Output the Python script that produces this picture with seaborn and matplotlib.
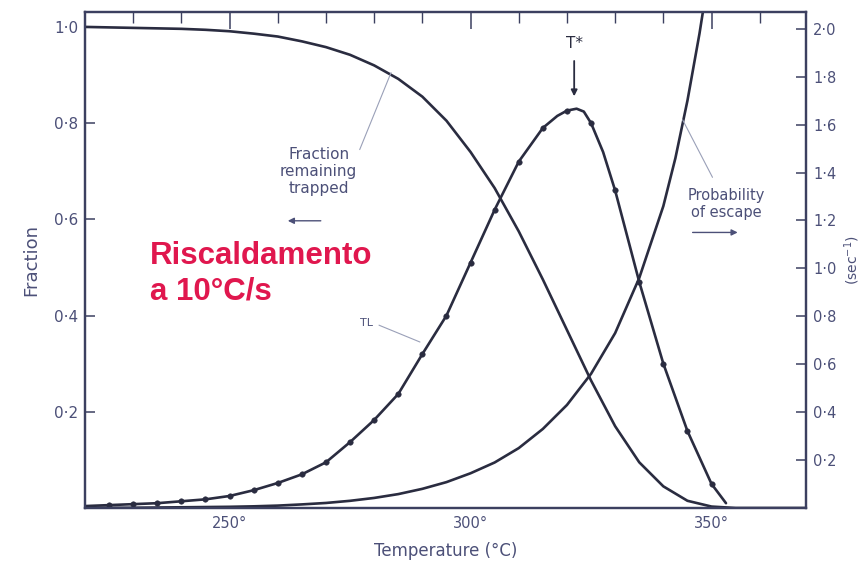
import matplotlib
matplotlib.use("Agg")
import matplotlib.pyplot as plt
import seaborn as sns
import pandas as pd
from matplotlib.ticker import FixedLocator

# ---------------- data ----------------
temp_c = [220, 225, 230, 235, 240, 245, 250, 255, 260, 265, 270, 275, 280,
          285, 290, 295, 300, 305, 310, 315, 320, 325, 330, 335, 340, 345,
          350, 355, 360, 365, 370]

fraction_trapped = [1.0, 0.999, 0.998, 0.997, 0.996, 0.994, 0.991, 0.986,
                    0.980, 0.970, 0.958, 0.942, 0.920, 0.892, 0.855, 0.805,
                    0.740, 0.665, 0.575, 0.475, 0.370, 0.265, 0.170, 0.095,
                    0.045, 0.015, 0.003, 0.0, 0.0, 0.0, 0.0]

esc_temp = [220, 225, 230, 235, 240, 245, 250, 255, 260, 265, 270, 275, 280,
            285, 290, 295, 300, 305, 310, 315, 320, 325, 330, 335, 340,
            342.5, 345, 347.5, 350]
escape_prob = [0.001, 0.001, 0.001, 0.002, 0.003, 0.004, 0.005, 0.007,
               0.010, 0.015, 0.021, 0.030, 0.042, 0.058, 0.080, 0.108,
               0.145, 0.190, 0.250, 0.330, 0.430, 0.560, 0.730, 0.960,
               1.260, 1.460, 1.700, 1.980, 2.300]

tl_temp = [220, 225, 230, 235, 240, 245, 250, 255, 260, 265, 270, 275, 280,
           285, 290, 295, 300, 305, 310, 315, 318, 320, 322, 323.5, 325,
           327.5, 330, 335, 340, 345, 350, 353]
tl_intensity = [0.004, 0.006, 0.008, 0.010, 0.014, 0.018, 0.025, 0.037,
                0.052, 0.070, 0.095, 0.137, 0.183, 0.237, 0.320, 0.400,
                0.510, 0.620, 0.720, 0.790, 0.815, 0.826, 0.830, 0.824,
                0.800, 0.740, 0.660, 0.470, 0.300, 0.160, 0.050, 0.010]
tl_dot_temp = [225, 230, 235, 240, 245, 250, 255, 260, 265, 270, 275, 280,
               285, 290, 295, 300, 305, 310, 315, 320, 325, 330, 335, 340,
               345, 350]

x_major = [250, 300, 350]
x_major_labels = ["250°", "300°", "350°"]
x_minor = [230, 240, 260, 270, 280, 290, 310, 320, 330, 340, 360]
left_ticks = [0.2, 0.4, 0.6, 0.8, 1.0]
left_labels = ["0·2", "0·4", "0·6", "0·8", "1·0"]
right_ticks = [0.2, 0.4, 0.6, 0.8, 1.0, 1.2, 1.4, 1.6, 1.8, 2.0]
right_labels = ["0·2", "0·4", "0·6", "0·8", "1·0", "1·2", "1·4", "1·6", "1·8", "2·0"]

# ---------------- styling ----------------
sns.set_style("white")
plt.rcParams["font.family"] = ["DejaVu Sans"]

LINE = "#2a2c40"
AXC = "#3c4060"
TXT = "#4c5078"
LEAD = "#9aa0b8"

df_frac = pd.DataFrame({"T": temp_c, "v": fraction_trapped})
df_esc = pd.DataFrame({"T": esc_temp, "v": escape_prob})
df_tl = pd.DataFrame({"T": tl_temp, "v": tl_intensity})
df_dots = df_tl[df_tl["T"].isin(tl_dot_temp)]

fig = plt.figure(figsize=(8.67, 5.71), dpi=100)
ax = fig.add_axes([85 / 867, 1 - 508 / 571, (806 - 85) / 867, (508 - 12) / 571])
ax2 = ax.twinx()

sns.lineplot(data=df_frac, x="T", y="v", ax=ax, color=LINE, lw=1.9)
sns.lineplot(data=df_tl, x="T", y="v", ax=ax, color=LINE, lw=1.9)
sns.scatterplot(data=df_dots, x="T", y="v", ax=ax, color=LINE, s=16,
                edgecolor=LINE, zorder=5)
sns.lineplot(data=df_esc, x="T", y="v", ax=ax2, color=LINE, lw=1.9)

ax.set_xlim(220, 369.6)
ax.set_ylim(0, 1.031)
ax2.set_ylim(0, 2.07)

for a in (ax, ax2):
    for s in a.spines.values():
        s.set_visible(True)
        s.set_color(AXC)
        s.set_linewidth(1.6)

ax.xaxis.set_major_locator(FixedLocator(x_major))
ax.xaxis.set_minor_locator(FixedLocator(x_minor))
ax.set_xticklabels(x_major_labels)
ax.tick_params(axis="x", which="major", direction="in", length=12, width=1.1,
               color=AXC, labelsize=10.5, labelcolor=TXT, pad=6, top=True)
ax.tick_params(axis="x", which="minor", direction="in", length=8, width=1.0,
               color=AXC, top=True)

ax.yaxis.set_major_locator(FixedLocator(left_ticks))
ax.set_yticklabels(left_labels)
ax.tick_params(axis="y", direction="in", length=7, width=1.1, color=AXC,
               labelsize=11, labelcolor=TXT, pad=5)
ax2.yaxis.set_major_locator(FixedLocator(right_ticks))
ax2.set_yticklabels(right_labels)
ax2.tick_params(axis="y", direction="in", length=7, width=1.1, color=AXC,
                labelsize=10.5, labelcolor=TXT, pad=5)

ax.set_xlabel("Temperature (°C)", fontsize=12, color=TXT, labelpad=8)
ax.set_ylabel("Fraction", fontsize=13, color=TXT, labelpad=10)
ax2.set_ylabel("(sec$^{-1}$)", fontsize=10, color=TXT, labelpad=4)

# ---------------- annotations ----------------
ax.text(268.5, 0.70, "Fraction\nremaining\ntrapped", fontsize=11, color=TXT,
        ha="center", va="center", linespacing=1.15)
ax.annotate("", xy=(261.5, 0.597), xytext=(269.5, 0.597),
            arrowprops=dict(arrowstyle="-|>", color=TXT, lw=1.0,
                            mutation_scale=9))
ax.plot([277.0, 283.5], [0.745, 0.905], color=LEAD, lw=0.8)

ax2.text(353.0, 1.27, "Probability\nof escape", fontsize=10.5, color=TXT,
         ha="center", va="center", linespacing=1.15)
ax2.annotate("", xy=(356.0, 1.15), xytext=(345.5, 1.15),
             arrowprops=dict(arrowstyle="-|>", color=TXT, lw=1.0,
                             mutation_scale=9))
ax2.plot([350.2, 344.0], [1.38, 1.62], color=LEAD, lw=0.8)

ax.text(321.5, 0.965, "T*", fontsize=11, color=LINE, ha="center", va="center")
ax.annotate("", xy=(321.5, 0.85), xytext=(321.5, 0.935),
            arrowprops=dict(arrowstyle="-|>", color=LINE, lw=1.3,
                            mutation_scale=9))

ax.text(278.5, 0.385, "TL", fontsize=8, color=TXT, ha="center", va="center")
ax.plot([281.0, 289.5], [0.38, 0.345], color=LEAD, lw=0.8)

ax.text(233.5, 0.487, "Riscaldamento\na 10°C/s", fontsize=22.5,
        color="#e0174e", fontweight="bold", ha="left", va="center",
        linespacing=1.2, family=["Liberation Sans", "DejaVu Sans"])

fig.savefig("out.png", dpi=100)
